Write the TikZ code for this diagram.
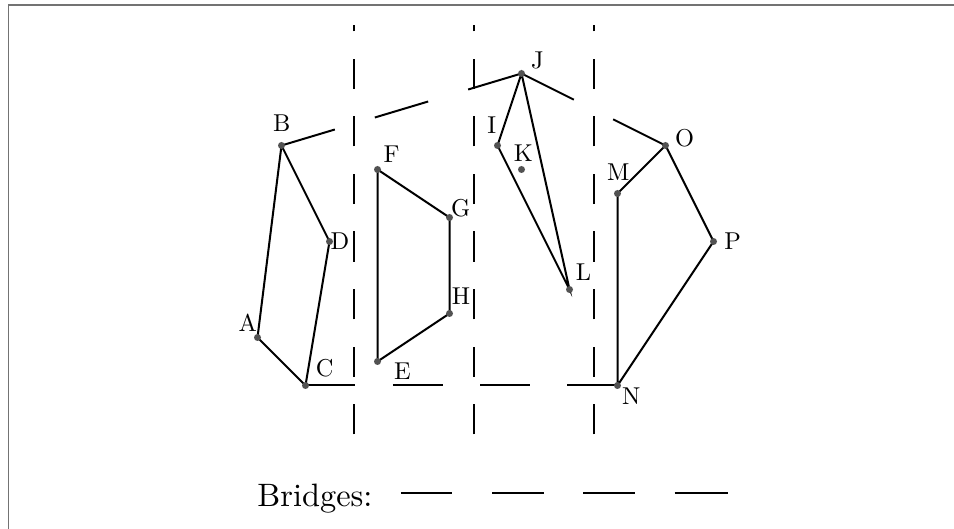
\documentclass[tikz,border=0pt]{standalone}
\begin{document}
\begin{tikzpicture}[x=0.5pt,y=-0.5pt,
  edge/.style={line width=1pt,black},
  divider/.style={line width=1pt,black,dash pattern=on 15.1pt off 13.7pt},
  dotc/.style={fill=black!68},
  lbl/.style={inner sep=0pt,font=\fontsize{10}{12}\selectfont},
  legendline/.style={line width=1pt,black}
]
\newcommand{\lbltext}[1]{\scalebox{1.22}{#1}}
\useasboundingbox (0,0) rectangle (954,529);
% frame (partly visible)
\coordinate (fbl) at (8.5,529);
\coordinate (ftl) at (8.5,5);
\coordinate (ftr) at (954,5);
\draw[black!55,line width=0.8pt] (fbl) -- (ftl) -- (ftr);

% points
\coordinate (A) at (257.5,337.5);
\coordinate (B) at (281.5,145.5);
\coordinate (C) at (305.5,385.5);
\coordinate (D) at (329.5,241.5);
\coordinate (E) at (377.5,361.5);
\coordinate (F) at (377.5,169.5);
\coordinate (G) at (449.5,217.5);
\coordinate (H) at (449.5,313.5);
\coordinate (I) at (497.5,145.5);
\coordinate (J) at (521.5,73.5);
\coordinate (K) at (521.5,169.5);
\coordinate (L) at (569.5,289.5);
\coordinate (M) at (617.5,193.5);
\coordinate (N) at (617.5,385.5);
\coordinate (O) at (665.5,145.5);
\coordinate (P) at (713.5,241.5);

% dividers
\coordinate (v1b) at (353.5,434.5); \coordinate (v1t) at (353.5,25);
\coordinate (v2b) at (473.5,434.5); \coordinate (v2t) at (473.5,25);
\coordinate (v3b) at (593.5,434.5); \coordinate (v3t) at (593.5,25);
\draw[divider] (v1b) -- (v1t);
\draw[divider] (v2b) -- (v2t);
\draw[divider] (v3b) -- (v3t);

% polygons
\draw[edge] (A) -- (B) -- (D) -- (C) -- cycle;
\draw[edge] (E) -- (F) -- (G) -- (H) -- cycle;
\draw[edge] (I) -- (J) -- (L) -- cycle;
\draw[edge] (M) -- (O) -- (P) -- (N) -- cycle;

% bridges (dashed)
\draw[edge,dash pattern=on 27.84pt off 20.88pt] (B) -- (J);
\draw[edge,dash pattern=on 29.27pt off 21.95pt] (J) -- (O);
\draw[edge,dash pattern=on 24.95pt off 18.7pt] (C) -- (N);

% dots
\foreach \p in {A,B,C,D,E,F,G,H,I,J,K,L,M,N,O,P}
  \fill[dotc] (\p) circle (1.75pt);

% labels
\node[lbl] (lA) at (247.7,322.8) {\lbltext{A}};
\node[lbl] (lB) at (281.7,123.3) {\lbltext{B}};
\node[lbl] (lC) at (324.7,368.5) {\lbltext{C}};
\node[lbl] (lD) at (340,241.5) {\lbltext{D}};
\node[lbl] (lE) at (402.5,370.8) {\lbltext{E}};
\node[lbl] (lF) at (391.7,154.7) {\lbltext{F}};
\node[lbl] (lG) at (460.7,208) {\lbltext{G}};
\node[lbl] (lH) at (461,296) {\lbltext{H}};
\node[lbl] (lI) at (491.7,124.7) {\lbltext{I}};
\node[lbl] (lJ) at (537.5,60) {\lbltext{J}};
\node[lbl] (lK) at (523.3,152.8) {\lbltext{K}};
\node[lbl] (lL) at (583.5,272) {\lbltext{L}};
\node[lbl] (lM) at (618.3,171.7) {\lbltext{M}};
\node[lbl] (lN) at (631.2,396.2) {\lbltext{N}};
\node[lbl] (lO) at (684.5,138) {\lbltext{O}};
\node[lbl] (lP) at (732.8,240.8) {\lbltext{P}};

% legend
\node[inner sep=0pt,anchor=base west,font=\fontsize{10}{12}\selectfont] (leg) at (257,506) {\scalebox{1.62}{Bridges:}};
\coordinate (b1a) at (400.8,493); \coordinate (b1b) at (452.2,493);
\coordinate (b2a) at (492,493);   \coordinate (b2b) at (544.4,493);
\coordinate (b3a) at (583,493);   \coordinate (b3b) at (635,493);
\coordinate (b4a) at (674.5,493); \coordinate (b4b) at (727.5,493);
\draw[legendline] (b1a) -- (b1b);
\draw[legendline] (b2a) -- (b2b);
\draw[legendline] (b3a) -- (b3b);
\draw[legendline] (b4a) -- (b4b);
\end{tikzpicture}
\end{document}
